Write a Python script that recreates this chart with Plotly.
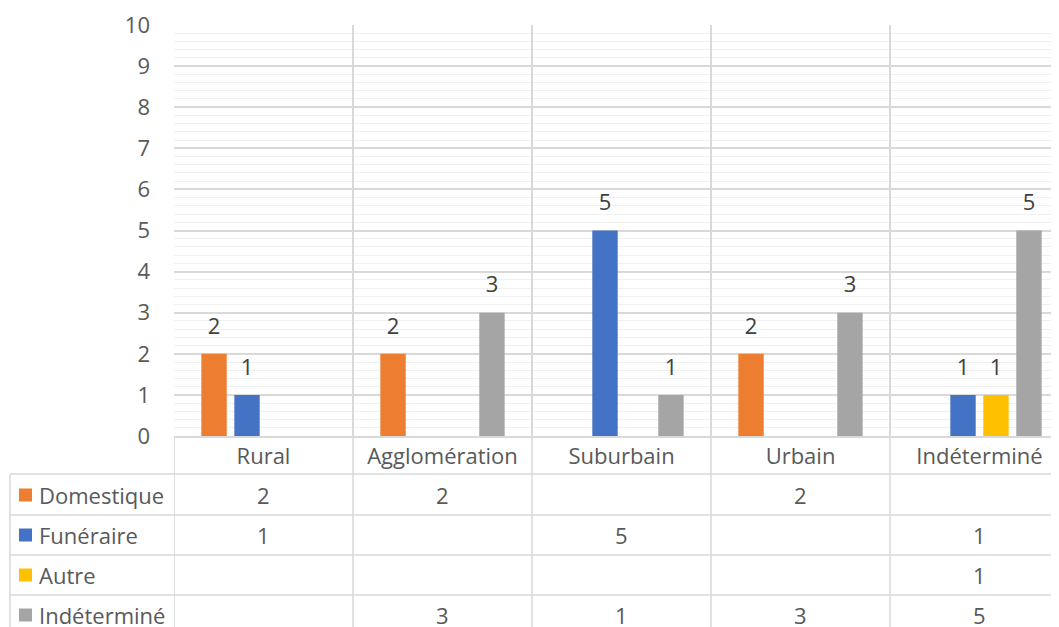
import plotly.graph_objects as go

categories = ["Rural", "Agglomération", "Suburbain", "Urbain", "Indéterminé"]
series_names = ["Domestique", "Funéraire", "Autre", "Indéterminé"]
domestique = [2, 2, None, 2, None]
funeraire = [1, None, 5, None, 1]
autre = [None, None, None, None, 1]
indetermine = [None, 3, 1, 3, 5]
y_ticks = [0, 1, 2, 3, 4, 5, 6, 7, 8, 9, 10]

series_values = [domestique, funeraire, autre, indetermine]
colors = ["#ED7D31", "#4472C4", "#FFC000", "#A5A5A5"]

FONT = "Open Sans"
FS = 22
TXT = "#595959"
GRID = "#D9D9D9"

# page has an 8px body margin around the figure
OFF = 8
W, H = 1059 - OFF, 627 - OFF
PL, PR, PT, PB = 174, 1059, 25, 436   # plot area in page pixels
L, R, T, B = PL - OFF, 0, PT - OFF, H - (PB - OFF)
plot_h = PB - PT
plot_w = PR - PL
GAP = 0.263


def py(ypx):
    return (PB - ypx) / plot_h


def px(xpx):
    return (xpx - PL) / plot_w


fig = go.Figure()
for i, (name, vals, col) in enumerate(zip(series_names, series_values, colors)):
    fig.add_trace(go.Bar(
        x=categories, y=vals, name=name, offsetgroup=str(i),
        marker=dict(color=col, line=dict(width=0)), hoverinfo="skip",
    ))
for i, (name, vals) in enumerate(zip(series_names, series_values)):
    fig.add_trace(go.Scatter(
        x=categories, y=vals, name=name + " labels", offsetgroup=str(i),
        mode="markers+text", marker=dict(size=22, opacity=0),
        text=[("" if v is None else str(v)) for v in vals],
        textposition="top center", cliponaxis=False, hoverinfo="skip",
        textfont=dict(family=FONT, size=FS, color="#404040"),
    ))

shapes = []
row_lines = [474, 515, 555, 595]
for yy in row_lines:
    shapes.append(dict(type="line", xref="paper", yref="paper", x0=px(10), x1=1.05,
                       y0=py(yy), y1=py(yy), line=dict(color=GRID, width=1.5)))
for i in range(len(categories)):
    shapes.append(dict(type="line", xref="x", yref="paper", x0=i - 0.5, x1=i - 0.5,
                       y0=0, y1=py(640), line=dict(color=GRID, width=1.5)))
shapes.append(dict(type="line", xref="paper", yref="paper", x0=px(10), x1=px(10),
                   y0=py(474), y1=py(640), line=dict(color=GRID, width=1.5)))

annotations = []
row_centers = [495, 535, 575, 615]
for r, (name, vals, col) in enumerate(zip(series_names, series_values, colors)):
    yc = py(row_centers[r])
    shapes.append(dict(type="rect", xref="paper", yref="paper",
                       x0=px(19), x1=px(32), y0=yc - 6.5 / plot_h, y1=yc + 6.5 / plot_h,
                       fillcolor=col, line=dict(width=0)))
    annotations.append(dict(x=px(37), y=yc, xref="paper", yref="paper", text=name,
                            showarrow=False, xanchor="left", yanchor="middle",
                            font=dict(family=FONT, size=FS, color=TXT)))
    for c, v in enumerate(vals):
        if v is not None:
            annotations.append(dict(x=categories[c], y=yc, xref="x", yref="paper",
                                    text=str(v), showarrow=False, xanchor="center",
                                    yanchor="middle",
                                    font=dict(family=FONT, size=FS, color=TXT)))

fig.update_layout(
    width=W, height=H,
    margin=dict(l=L, r=R, t=T, b=B, pad=0),
    paper_bgcolor="white", plot_bgcolor="white",
    barmode="group", bargap=GAP, bargroupgap=0.23,
    scattermode="group", scattergap=GAP,
    showlegend=False,
    shapes=shapes, annotations=annotations,
    font=dict(family=FONT, color=TXT),
    xaxis=dict(
        type="category", range=[-0.5, 4.5 - 10 / 179], tickson="boundaries",
        showgrid=True, gridcolor=GRID, gridwidth=1.5, ticks="",
        showline=True, linecolor=GRID, linewidth=1.5,
        tickfont=dict(family=FONT, size=FS, color=TXT), ticklabelstandoff=0,
        zeroline=False,
    ),
    yaxis=dict(
        range=[0, 10], tickvals=y_ticks, showgrid=True, gridcolor=GRID, gridwidth=1.5,
        minor=dict(dtick=0.2, showgrid=True, gridcolor="#F0F0F0", gridwidth=1),
        zeroline=False, showline=False, ticks="",
        tickfont=dict(family=FONT, size=FS, color=TXT), ticklabelstandoff=23,
    ),
)

fig.write_html("out.html")
